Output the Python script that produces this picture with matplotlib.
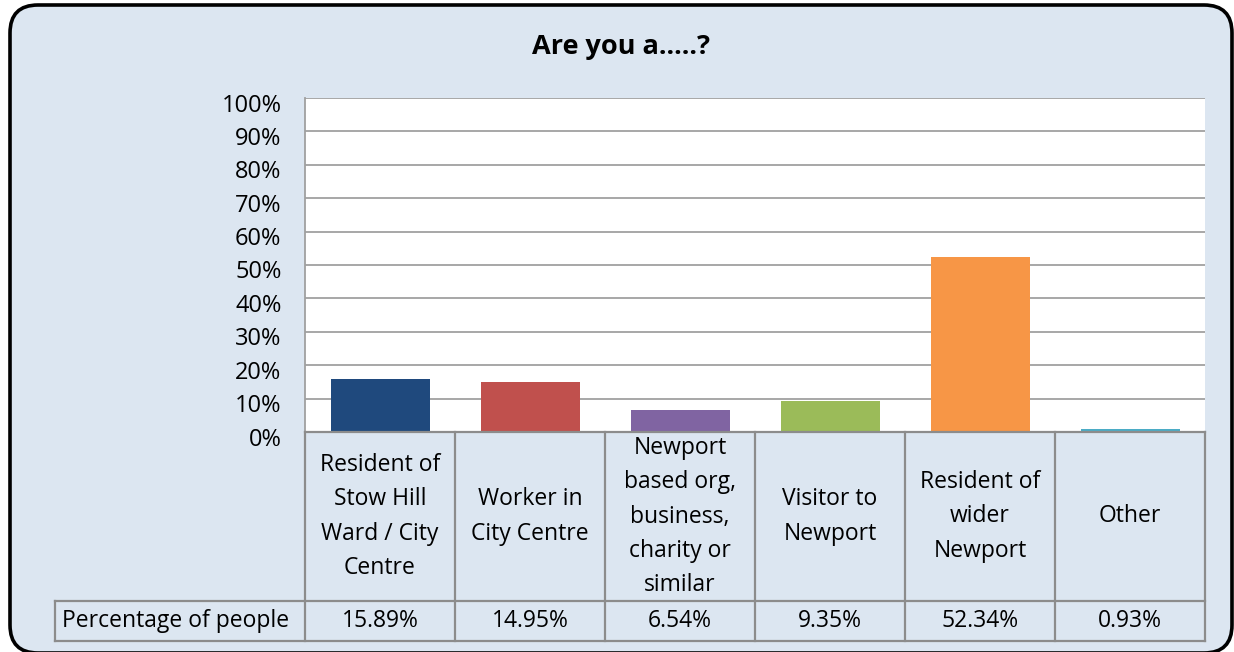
import matplotlib
matplotlib.use("Agg")
import matplotlib.pyplot as plt
from matplotlib.patches import FancyBboxPatch
from matplotlib.transforms import blended_transform_factory, ScaledTranslation

categories = ["Resident of\nStow Hill\nWard / City\nCentre",
              "Worker in\nCity Centre",
              "Newport\nbased org,\nbusiness,\ncharity or\nsimilar",
              "Visitor to\nNewport",
              "Resident of\nwider\nNewport",
              "Other"]
values = [15.89, 14.95, 6.54, 9.35, 52.34, 0.93]
value_labels = ["15.89%", "14.95%", "6.54%", "9.35%", "52.34%", "0.93%"]
colors = ["#1F497D", "#C0504D", "#8064A2", "#9BBB59", "#F79646", "#4BACC6"]
yticks = [0, 10, 20, 30, 40, 50, 60, 70, 80, 90, 100]
ytick_labels = [f"{t}%" for t in yticks]
title = "Are you a.....?"
row_label = "Percentage of people"

plt.rcParams['font.family'] = ['Open Sans', 'DejaVu Sans']
BG = "#DCE6F1"
GRID = "#A0A0A0"
TBL = "#8C8C8C"
FS = 16.5

W, H = 1234, 652
fig = plt.figure(figsize=(W / 100, H / 100), dpi=100)
fig.patch.set_facecolor("white")

# background axes in pixel coordinates for the rounded chart frame
bg = fig.add_axes([0, 0, 1, 1], zorder=-1)
bg.set_xlim(0, W)
bg.set_ylim(H, 0)
bg.axis("off")
frame = FancyBboxPatch((10, 5), 1222, 648,
                       boxstyle="round,pad=0,rounding_size=28",
                       facecolor=BG, edgecolor="black", linewidth=2.6)
bg.add_patch(frame)

left, right = 305 / W, 1205 / W
bottom, top = 1 - 432 / H, 1 - 98 / H
ax = fig.add_axes([left, bottom, right - left, top - bottom])
ax.set_facecolor("white")

x = list(range(len(values)))
ax.bar(x, values, width=0.66, color=colors, zorder=3)
ax.set_xlim(-0.5, len(values) - 0.5)
ax.set_ylim(0, 100)
ax.set_yticks(yticks)
ax.set_yticklabels(ytick_labels, fontsize=17)
ax.set_xticks([])
ax.tick_params(axis='y', length=0, pad=17)
off = ScaledTranslation(0, -0.045, fig.dpi_scale_trans)
for lab in ax.get_yticklabels():
    lab.set_transform(lab.get_transform() + off)
ax.yaxis.grid(True, color=GRID, linewidth=1.3, zorder=1)
ax.set_axisbelow(True)
for s in ["top", "right", "bottom"]:
    ax.spines[s].set_visible(False)
ax.spines["left"].set_color(GRID)
ax.spines["left"].set_linewidth(1.3)

# data table
tr = blended_transform_factory(ax.transData, ax.transAxes)
ph = 432 - 98
r1 = -(601 - 432) / ph
r2 = -(641 - 432) / ph
xl = -0.5 - (305 - 55) / 150
n = len(values)
kw = dict(color=TBL, linewidth=1.6, transform=tr, clip_on=False, zorder=5)
ax.plot([-0.5, n - 0.5], [0, 0], **kw)
ax.plot([xl, n - 0.5], [r1, r1], **kw)
ax.plot([xl, n - 0.5], [r2, r2], **kw)
ax.plot([xl, xl], [r1, r2], **kw)
for i in range(n + 1):
    ax.plot([i - 0.5, i - 0.5], [0, r2], **kw)

for i in range(n):
    ax.text(i, r1 / 2, categories[i], transform=tr, ha="center", va="center",
            fontsize=FS, linespacing=1.57, clip_on=False)
    ax.text(i, (r1 + r2) / 2, value_labels[i], transform=tr, ha="center",
            va="center", fontsize=FS, clip_on=False)
ax.text(xl + 0.047, (r1 + r2) / 2, row_label, transform=tr, ha="left",
        va="center", fontsize=FS, clip_on=False)

fig.text(621 / W, 1 - 47 / H, title, ha="center", va="center",
         fontsize=19.5, fontweight="bold")

fig.savefig("out.png", dpi=100, facecolor=fig.get_facecolor())
